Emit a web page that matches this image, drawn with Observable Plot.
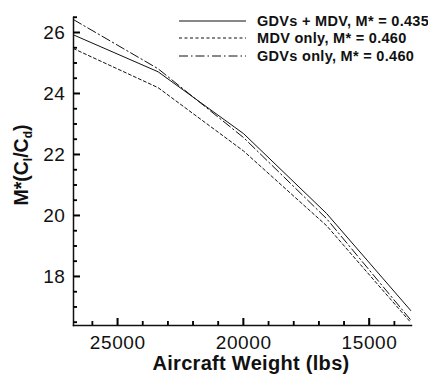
<!DOCTYPE html>
<html>
<head>
<meta charset="utf-8">
<script src="https://cdn.jsdelivr.net/npm/d3@7"></script>
<script src="https://cdn.jsdelivr.net/npm/@observablehq/plot@0.6"></script>
<style>
  html, body { margin: 0; padding: 0; background: #fff; }
  #wrap { position: relative; width: 428px; height: 376px; font-family: "Liberation Sans", Arial, sans-serif; }
  #legend { position: absolute; left: 179px; top: 12px; font-weight: bold; font-size: 14.5px; letter-spacing: 0.3px; color: #111; }
  #legend .row { display: flex; align-items: center; height: 17.5px; white-space: nowrap; }
  #legend svg { margin-right: 11px; }
</style>
</head>
<body>
<div id="wrap"></div>
<script>
const weights = [26760, 23400, 20000, 16700, 13360];
const gdvsMdv = [25.93, 24.72, 22.69, 20.07, 16.89];
const mdvOnly = [25.48, 24.20, 22.12, 19.67, 16.50];
const gdvsOnly = [26.43, 24.82, 22.56, 19.90, 16.58];
const seriesNames = ["GDVs + MDV, M* = 0.435", "MDV only, M* = 0.460", "GDVs only, M* = 0.460"];
const seriesDash = ["none", "3,2.5", "9,3,1.5,3"];
const xMajor = [25000, 20000, 15000];
const xMinor = [26000, 24000, 23000, 22000, 21000, 19000, 18000, 17000, 16000, 14000];
const yMajor = [18, 20, 22, 24, 26];
const yMinor = [16.5, 17, 17.5, 18.5, 19, 19.5, 20.5, 21, 21.5, 22.5, 23, 23.5, 24.5, 25, 25.5, 26.5];

const seriesValues = [gdvsMdv, mdvOnly, gdvsOnly];
const rows = [];
seriesValues.forEach((vals, s) => vals.forEach((v, i) => rows.push({series: seriesNames[s], w: weights[i], v})));

const W = 428, H = 376, mL = 73, mR = 17, mT = 17, mB = 51;
const fw = W - mL - mR, fh = H - mT - mB;
const FONT = "Liberation Sans, Arial, sans-serif";

const chart = Plot.plot({
  width: W, height: H,
  marginLeft: mL, marginRight: mR, marginTop: mT, marginBottom: mB,
  style: {fontFamily: FONT, background: "#fff", color: "#111"},
  x: {domain: [26760, 13330], label: null},
  y: {domain: [16.4, 26.5], label: null},
  marks: [
    Plot.axisX({ticks: xMajor, tickSize: 0, tickPadding: 10, tickFormat: d => String(d), fontSize: 19, label: null}),
    Plot.axisY({ticks: yMajor, tickSize: 0, tickPadding: 8, tickFormat: d => String(d), fontSize: 19, label: null}),
    Plot.ruleX(xMajor, {x: d => d, insetTop: fh - 7, stroke: "#000", strokeWidth: 1.5}),
    Plot.ruleX(xMinor, {x: d => d, insetTop: fh - 4, stroke: "#000", strokeWidth: 1.3}),
    Plot.ruleY(yMajor, {y: d => d, insetRight: fw - 7, stroke: "#000", strokeWidth: 1.5}),
    Plot.ruleY(yMinor, {y: d => d, insetRight: fw - 4, stroke: "#000", strokeWidth: 1.3}),
    Plot.frame({anchor: "left", stroke: "#111", strokeWidth: 1.5}),
    Plot.frame({anchor: "bottom", stroke: "#111", strokeWidth: 1.5}),
    ...seriesNames.map((name, s) => Plot.line(rows.filter(r => r.series === name), {
      x: "w", y: "v", stroke: "#111", strokeWidth: 1, strokeDasharray: seriesDash[s]
    }))
  ]
});

const wrap = document.getElementById("wrap");
wrap.appendChild(chart);

const svg = d3.select(chart);
svg.selectAll("g[aria-label='x-axis tick label'] text, g[aria-label='y-axis tick label'] text").attr("letter-spacing", 0.6);

// Inward tick marks positioned with the chart's own scales
const xs = chart.scale("x"), ys = chart.scale("y");
const sx = d3.scaleLinear().domain(xs.domain).range(xs.range);
const sy = d3.scaleLinear().domain(ys.domain).range(ys.range);
const gt = svg.append("g");
const yb = H - mB;
const vline = (x, len, w) => gt.append("line").attr("x1", x).attr("x2", x).attr("y1", yb).attr("y2", yb - len).attr("stroke", "#000").attr("stroke-width", w);
const hline = (y, len, w) => gt.append("line").attr("y1", y).attr("y2", y).attr("x1", mL).attr("x2", mL + len).attr("stroke", "#000").attr("stroke-width", w);
xMajor.forEach(v => vline(sx(v), 7, 1.5));
xMinor.forEach(v => vline(sx(v), 4, 1.3));
yMajor.forEach(v => hline(sy(v), 7, 1.5));
yMinor.forEach(v => hline(sy(v), 4, 1.3));

// Axis titles
svg.append("text")
  .attr("x", 251).attr("y", 370)
  .attr("text-anchor", "middle")
  .attr("font-size", 20).attr("font-weight", "bold").attr("fill", "#111").attr("letter-spacing", 0.3)
  .attr("font-family", FONT)
  .text("Aircraft Weight (lbs)");

const yt = svg.append("text")
  .attr("transform", `translate(28, 165) rotate(-90)`)
  .attr("text-anchor", "middle")
  .attr("font-size", 19.5).attr("font-weight", "bold").attr("fill", "#111")
  .attr("font-family", FONT);
yt.append("tspan").text("M*(C");
yt.append("tspan").attr("font-size", 12).attr("dy", 4).text("l");
yt.append("tspan").attr("dy", -4).text("/C");
yt.append("tspan").attr("font-size", 12).attr("dy", 4).text("d");
yt.append("tspan").attr("dy", -4).text(")");

// Legend
const legend = document.createElement("div");
legend.id = "legend";
seriesNames.forEach((name, s) => {
  const row = document.createElement("div");
  row.className = "row";
  const ls = d3.create("svg").attr("width", 67).attr("height", 6);
  ls.append("line").attr("x1", 0).attr("x2", 67).attr("y1", 3).attr("y2", 3)
    .attr("stroke", "#111").attr("stroke-width", 1).attr("stroke-dasharray", seriesDash[s]);
  row.appendChild(ls.node());
  const t = document.createElement("span");
  t.textContent = name;
  row.appendChild(t);
  legend.appendChild(row);
});
wrap.appendChild(legend);
</script>
</body>
</html>
